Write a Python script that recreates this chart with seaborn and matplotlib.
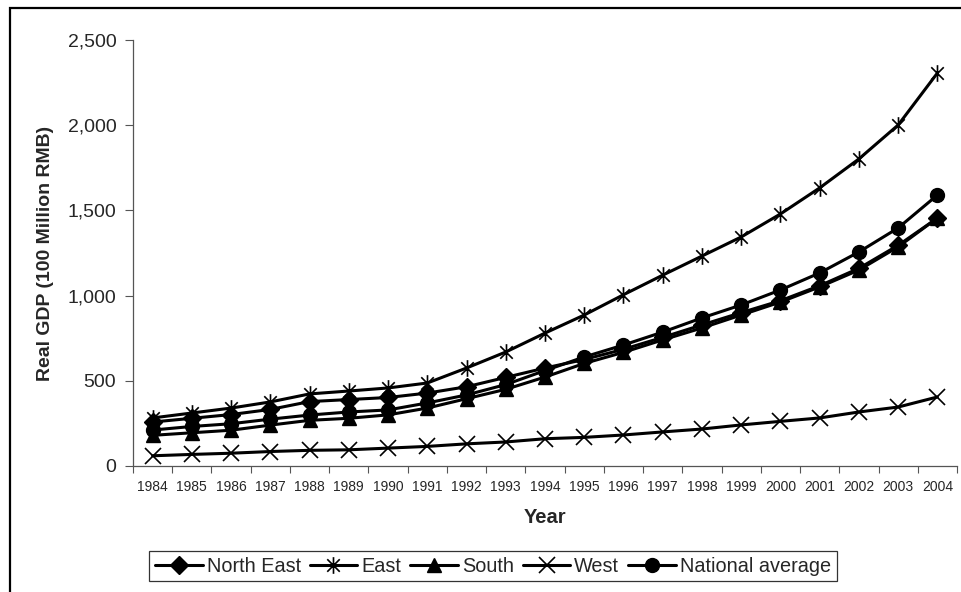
import numpy as np
import matplotlib
matplotlib.use("Agg")
import matplotlib.pyplot as plt
from matplotlib.path import Path
from matplotlib.patches import Rectangle
from matplotlib.ticker import FixedLocator, StrMethodFormatter
import seaborn as sns

years = list(range(1984, 2005))
north_east = [258, 280, 302, 332, 378, 390, 402, 428, 465, 520, 575, 625, 685, 755, 828, 900, 970, 1058, 1160, 1295, 1455]
east = [282, 311, 340, 376, 423, 440, 458, 487, 575, 669, 780, 886, 1005, 1120, 1232, 1344, 1479, 1632, 1802, 2001, 2306]
south = [180, 195, 210, 240, 268, 280, 300, 340, 395, 450, 522, 602, 667, 740, 810, 886, 962, 1051, 1150, 1286, 1455]
west = [60, 68, 75, 85, 92, 95, 105, 115, 130, 141, 160, 168, 182, 200, 217, 241, 262, 282, 317, 346, 405]
national = [211, 232, 248, 275, 299, 317, 329, 370, 417, 478, 560, 640, 710, 786, 869, 945, 1033, 1133, 1256, 1397, 1590]

# Excel style asterisk: X with a vertical bar
asterisk = Path(
    [(0, -1), (0, 1), (-0.75, -0.75), (0.75, 0.75), (-0.75, 0.75), (0.75, -0.75)],
    [Path.MOVETO, Path.LINETO, Path.MOVETO, Path.LINETO, Path.MOVETO, Path.LINETO],
)

series = [
    ("North East", north_east, "D", 9, 1.0),
    ("East", east, asterisk, 12, 1.2),
    ("South", south, "^", 10.5, 1.0),
    ("West", west, "x", 11, 1.2),
    ("National average", national, "o", 10, 1.0),
]

sns.set_style("white")
plt.rcParams["font.family"] = ["Liberation Sans", "DejaVu Sans"]

fig = plt.figure(figsize=(9.62, 5.92), dpi=100)
ax = fig.add_axes([133 / 962, 1 - 466 / 592, 824 / 962, 426 / 592])

for name, vals, mk, ms, mew in series:
    sns.lineplot(x=years, y=vals, ax=ax, color="black", linewidth=2.2,
                 marker=mk, markersize=ms, markeredgewidth=mew,
                 markeredgecolor="black", markerfacecolor="black", label=name)

ax.set_xlim(1983.5, 2004.5)
ax.set_ylim(0, 2500)
ax.set_yticks(np.arange(0, 2501, 500))
ax.yaxis.set_major_formatter(StrMethodFormatter("{x:,.0f}"))
ax.set_xticks(years)
ax.set_xticklabels([str(y) for y in years], family=["Liberation Sans Narrow", "Liberation Sans"], fontsize=10)
ax.xaxis.set_minor_locator(FixedLocator(np.arange(1983.5, 2005, 1)))
ax.tick_params(axis="x", which="major", length=0, pad=10)
ax.tick_params(axis="x", which="minor", length=5, width=0.8, color="#555555", direction="out")
ax.tick_params(axis="y", length=6, width=0.8, color="#555555", direction="out", labelsize=14, pad=6)
ax.tick_params(axis="both", which="both", bottom=True, left=True)

for side in ["top", "right"]:
    ax.spines[side].set_visible(False)
for side in ["left", "bottom"]:
    ax.spines[side].set_color("#555555")
    ax.spines[side].set_linewidth(0.9)

ax.set_xlabel("Year", fontsize=14.5, fontweight="bold")
ax.xaxis.set_label_coords(0.5, -0.098)
ax.set_ylabel("Real GDP (100 Million RMB)", fontsize=14, fontweight="bold")
ax.yaxis.set_label_coords(-0.096, 0.5)

leg = ax.legend(loc="center", bbox_to_anchor=(493 / 962, 1 - 566 / 592),
                bbox_transform=fig.transFigure, ncol=5, fontsize=14.3,
                frameon=True, fancybox=False, edgecolor="black",
                handlelength=2.4, handletextpad=0.2, columnspacing=0.45,
                borderpad=0.3, borderaxespad=0)
leg.get_frame().set_linewidth(0.9)

# outer chart border (cut by the image edges)
fig.patches.append(Rectangle((10 / 962, -0.05), 1.1, 1 - 8 / 592 + 0.05,
                             transform=fig.transFigure, fill=False,
                             edgecolor="black", linewidth=1.6))

fig.savefig("out.png", dpi=100)
